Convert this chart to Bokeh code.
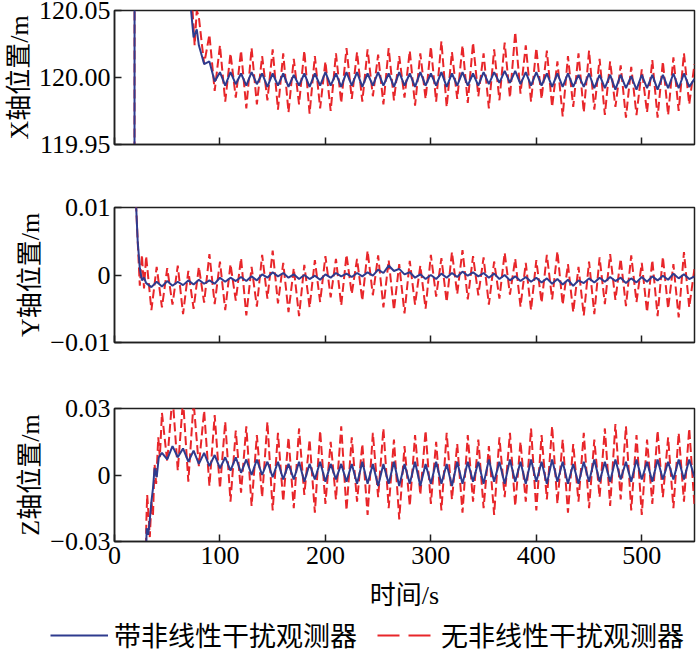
from bokeh.plotting import figure
from bokeh.models import Range1d, FixedTicker, Legend, LegendItem
from bokeh.layouts import column
from bokeh.embed import file_html
from bokeh.resources import INLINE

# ---------------- data ----------------
t_grid = [30, 35, 40, 45, 50, 55, 60, 65, 70, 75,
          80, 85, 90, 95, 100, 105, 110, 115, 120, 125,
          130, 135, 140, 145, 150, 155, 160, 165, 170, 175,
          180, 185, 190, 195, 200, 205, 210, 215, 220, 225,
          230, 235, 240, 245, 250, 255, 260, 265, 270, 275,
          280, 285, 290, 295, 300, 305, 310, 315, 320, 325,
          330, 335, 340, 345, 350, 355, 360, 365, 370, 375,
          380, 385, 390, 395, 400, 405, 410, 415, 420, 425,
          430, 435, 440, 445, 450, 455, 460, 465, 470, 475,
          480, 485, 490, 495, 500, 505, 510, 515, 520, 525,
          530, 535, 540, 545, 550]

# X axis position (start transient, then oscillation from t=80)
tx_start = [18.9, 19.1, 60, 72, 75, 78]
x_blue_start = [119.80, 120.20, 120.20, 120.055, 120.030, 120.036]
tx_red_start = [18.9, 19.1, 60, 70, 74, 76, 78]
x_red_start = [119.80, 120.20, 120.25, 120.08, 120.05, 120.024, 120.05]
x_blue = [120.024, 120.010, 120.012, 119.997, 120.004, 119.994, 120.004, 119.995, 120.003, 119.994,
          120.004, 119.995, 120.003, 119.993, 120.003, 119.994, 120.003, 119.993, 120.002, 119.994,
          120.003, 119.993, 120.003, 119.994, 120.004, 119.994, 120.003, 119.993, 120.004, 119.994,
          120.004, 119.993, 120.003, 119.994, 120.004, 119.994, 120.003, 119.993, 120.004, 119.994,
          120.003, 119.993, 120.004, 119.994, 120.003, 119.994, 120.004, 119.993, 120.003, 119.994,
          120.004, 119.994, 120.003, 119.994, 120.004, 119.995, 120.004, 119.996, 120.005, 119.996,
          120.005, 119.995, 120.004, 119.994, 120.004, 119.994, 120.003, 119.993, 120.003, 119.993,
          120.003, 119.993, 120.002, 119.993, 120.003, 119.992, 120.002, 119.992, 120.002, 119.991,
          120.002, 119.992, 120.001, 119.991, 120.002, 119.992, 120.002, 119.991, 120.002, 119.992,
          120.003, 119.992, 120.003, 119.993, 119.999]
x_red = [120.045, 120.010, 120.032, 119.990, 120.024, 119.982, 120.018, 119.985, 120.020, 119.977,
         120.022, 119.980, 120.016, 119.983, 120.021, 119.976, 120.018, 119.974, 120.014, 119.980,
         120.020, 119.973, 120.016, 119.977, 120.012, 119.975, 120.018, 119.981, 120.022, 119.984,
         120.019, 119.982, 120.021, 119.986, 120.017, 119.980, 120.022, 119.983, 120.016, 119.985,
         120.020, 119.979, 120.018, 119.984, 120.023, 119.982, 120.027, 119.978, 120.019, 119.984,
         120.024, 119.981, 120.026, 119.986, 120.018, 119.977, 120.021, 119.983, 120.026, 119.985,
         120.034, 119.988, 120.024, 119.982, 120.022, 119.984, 120.020, 119.978, 120.012, 119.971,
         120.016, 119.978, 120.018, 119.974, 120.020, 119.976, 120.014, 119.972, 120.012, 119.978,
         120.009, 119.970, 120.008, 119.972, 120.006, 119.974, 120.013, 119.970, 120.012, 119.972,
         120.015, 119.975, 120.018, 119.980, 120.010]

# Y axis position (start transient, then oscillation from t=30)
ty_start = [18.5, 20, 22, 24, 26, 28]
y_blue_start = [0.03, 0.012, 0.005, 0.001, -0.0008, -0.0004]
y_red_start = [0.03, 0.012, 0.005, -0.0016, 0.003, -0.002]
y_blue = [-0.0012, -0.0018, -0.0010, -0.0017, -0.0009, -0.0016, -0.0010, -0.0015, -0.0008, -0.0014,
          -0.0007, -0.0013, -0.0008, -0.0013, -0.0004, -0.0010, -0.0004, -0.0009, -0.0003, -0.0009,
          -0.0002, -0.0008, 0.0001, -0.0004, 0.0004, -0.0002, 0.0003, -0.0004, 0.0001, -0.0006,
          0.0000, -0.0006, -0.0001, -0.0007, 0.0001, -0.0004, 0.0003, -0.0002, 0.0002, -0.0003,
          0.0003, -0.0002, 0.0004, -0.0001, 0.0008, 0.0003, 0.0014, 0.0006, 0.0009, 0.0001,
          0.0004, -0.0004, 0.0001, -0.0006, 0.0000, -0.0006, 0.0002, -0.0004, 0.0003, -0.0003,
          0.0005, -0.0001, 0.0004, -0.0002, 0.0003, -0.0004, 0.0002, -0.0006, 0.0000, -0.0008,
          -0.0002, -0.0009, -0.0003, -0.0010, -0.0004, -0.0011, -0.0005, -0.0013, -0.0006, -0.0014,
          -0.0007, -0.0016, -0.0008, -0.0012, -0.0005, -0.0011, -0.0004, -0.0010, -0.0003, -0.0009,
          -0.0004, -0.0012, -0.0005, -0.0011, -0.0003, -0.0010, -0.0002, -0.0008, -0.0001, -0.0007,
          0.0002, -0.0005, 0.0001, -0.0006, -0.0002]
y_red = [0.0028, -0.0052, 0.0012, -0.0048, 0.0010, -0.0044, 0.0014, -0.0058, 0.0006, -0.0050,
         0.0012, -0.0041, 0.0031, -0.0043, 0.0020, -0.0052, 0.0016, -0.0038, 0.0025, -0.0060,
         0.0012, -0.0047, 0.0030, -0.0035, 0.0036, -0.0042, 0.0018, -0.0055, 0.0010, -0.0061,
         0.0015, -0.0048, 0.0022, -0.0040, 0.0028, -0.0033, 0.0024, -0.0045, 0.0030, -0.0028,
         0.0024, -0.0038, 0.0036, -0.0030, 0.0029, -0.0048, 0.0022, -0.0052, 0.0016, -0.0057,
         0.0021, -0.0044, 0.0014, -0.0050, 0.0030, -0.0032, 0.0025, -0.0040, 0.0034, -0.0028,
         0.0037, -0.0036, 0.0028, -0.0030, 0.0026, -0.0044, 0.0020, -0.0035, 0.0033, -0.0029,
         0.0024, -0.0047, 0.0018, -0.0052, 0.0022, -0.0041, 0.0030, -0.0036, 0.0035, -0.0044,
         0.0016, -0.0055, 0.0012, -0.0060, 0.0020, -0.0058, 0.0026, -0.0043, 0.0031, -0.0037,
         0.0024, -0.0046, 0.0029, -0.0040, 0.0018, -0.0055, 0.0022, -0.0061, 0.0027, -0.0050,
         0.0016, -0.0063, 0.0034, -0.0048, 0.0010]

# Z axis position (start transient, then oscillation from t=45)
tz_blue_start = [29.3, 30.5, 32, 33.5, 35, 36.5, 38, 40, 42]
z_blue_start = [-0.05, -0.024, -0.027, -0.020, -0.012, -0.006, 0.003, -0.001, 0.008]
tz_red_start = [29.3, 30.2, 31, 32, 33.5, 35, 36.5, 38, 39.5, 41.5, 43]
z_red_start = [-0.05, -0.021, -0.009, -0.016, -0.028, -0.012, -0.018, 0.005, -0.004, 0.017, 0.008]
z_blue = [0.010, 0.007, 0.013, 0.008, 0.012, 0.006, 0.011, 0.005, 0.010, 0.004,
          0.009, 0.003, 0.008, 0.002, 0.008, 0.001, 0.007, 0.000, 0.007, 0.000,
          0.006, -0.001, 0.006, -0.002, 0.005, -0.002, 0.006, -0.003, 0.005, -0.002,
          0.006, -0.003, 0.005, -0.002, 0.005, -0.003, 0.005, -0.004, 0.006, -0.004,
          0.005, -0.005, 0.005, -0.004, 0.006, -0.005, 0.005, -0.004, 0.006, -0.005,
          0.005, -0.004, 0.006, -0.004, 0.005, -0.005, 0.006, -0.004, 0.006, -0.003,
          0.006, -0.004, 0.007, -0.003, 0.006, -0.004, 0.007, -0.003, 0.006, -0.004,
          0.007, -0.003, 0.006, -0.004, 0.007, -0.003, 0.006, -0.004, 0.005, -0.004,
          0.006, -0.003, 0.007, -0.003, 0.006, -0.003, 0.007, -0.002, 0.006, -0.003,
          0.007, -0.002, 0.006, -0.003, 0.007, -0.002, 0.006, -0.002, 0.007, -0.002,
          0.007, -0.001]
z_red = [0.028, 0.006, 0.036, 0.002, 0.034, -0.003, 0.033, 0.004, 0.029, -0.005,
         0.027, -0.006, 0.024, -0.012, 0.020, -0.008, 0.022, -0.014, 0.018, -0.010,
         0.024, -0.016, 0.019, -0.012, 0.017, -0.015, 0.021, -0.009, 0.016, -0.017,
         0.020, -0.013, 0.015, -0.011, 0.022, -0.016, 0.017, -0.012, 0.014, -0.018,
         0.019, -0.010, 0.021, -0.015, 0.016, -0.020, 0.013, -0.014, 0.018, -0.009,
         0.020, -0.013, 0.015, -0.016, 0.019, -0.011, 0.014, -0.017, 0.018, -0.012,
         0.016, -0.015, 0.013, -0.018, 0.017, -0.010, 0.019, -0.014, 0.015, -0.012,
         0.021, -0.016, 0.018, -0.011, 0.022, -0.013, 0.016, -0.017, 0.014, -0.012,
         0.019, -0.015, 0.016, -0.010, 0.021, -0.014, 0.023, -0.011, 0.022, -0.016,
         0.018, -0.018, 0.016, -0.013, 0.020, -0.010, 0.017, -0.015, 0.019, -0.012,
         0.021, -0.014]

x_ticks = [0, 100, 200, 300, 400, 500]
labels = ["带非线性干扰观测器", "无非线性干扰观测器"]

# ---------------- style ----------------
BLUE = "#2E3B8E"
RED = "#E8262A"
FONT = "Liberation Serif, Noto Sans CJK SC"
CJK = "Noto Sans CJK SC"
FRAME = "#1f1f1f"
W = 699
BL = 114
BR = 5


def panel(height, bt, bb, y0, y1, yticks, yover, ylabel, xlabels):
    p = figure(width=W, height=height, x_range=Range1d(0, 550), y_range=Range1d(y0, y1),
               output_backend="svg", toolbar_location=None,
               min_border_left=BL, min_border_right=BR, min_border_top=bt, min_border_bottom=bb)
    p.grid.visible = False
    p.outline_line_color = FRAME
    p.outline_line_width = 1.5
    for ax in (p.xaxis[0], p.yaxis[0]):
        ax.axis_line_color = FRAME
        ax.axis_line_width = 1.5
        ax.major_tick_in = 7
        ax.major_tick_out = 0
        ax.major_tick_line_color = FRAME
        ax.major_tick_line_width = 1.5
        ax.minor_tick_line_color = None
        ax.major_label_text_font = FONT
        ax.major_label_text_font_size = "26px"
        ax.major_label_text_color = "black"
        ax.axis_label_text_font = FONT
        ax.axis_label_text_font_size = "26px"
        ax.axis_label_text_font_style = "normal"
        ax.axis_label_text_color = "black"
    p.xaxis.ticker = FixedTicker(ticks=x_ticks)
    p.yaxis.ticker = FixedTicker(ticks=yticks)
    p.yaxis.major_label_overrides = yover
    p.yaxis.major_label_standoff = 4
    p.yaxis.axis_label_standoff = 2
    p.yaxis.axis_label = ylabel
    p.xaxis.major_label_standoff = 5
    if not xlabels:
        p.xaxis.major_label_overrides = {t: "" for t in x_ticks}
    return p


p1 = panel(180, 10, 36, 119.95, 120.05, [119.95, 120.0, 120.05],
           {119.95: "119.95", 120.0: "120.00", 120.05: "120.05"}, "X轴位置/m", False)
p1.line(tx_red_start + t_grid[10:], x_red_start + x_red, color=RED, line_width=2, line_dash="9 4")
p1.line(tx_start + t_grid[10:], x_blue_start + x_blue, color=BLUE, line_width=2)

p2 = panel(200, 27, 38, -0.01, 0.01, [-0.01, 0, 0.01],
           {-0.01: "\u22120.01", 0: "0", 0.01: "0.01"}, "Y轴位置/m", False)
p2.line(ty_start + t_grid, y_red_start + y_red, color=RED, line_width=2, line_dash="9 4")
p2.line(ty_start + t_grid, y_blue_start + y_blue, color=BLUE, line_width=2)

p3 = panel(232, 28, 69, -0.03, 0.03, [-0.03, 0, 0.03],
           {-0.03: "\u22120.03", 0: "0", 0.03: "0.03"}, "Z轴位置/m", True)
p3.xaxis.axis_label = "时间/s"
p3.xaxis.axis_label_standoff = 14
p3.line(tz_red_start + t_grid[3:], z_red_start + z_red, color=RED, line_width=2, line_dash="9 4")
p3.line(tz_blue_start + t_grid[3:], z_blue_start + z_blue, color=BLUE, line_width=2)

# legend strip
p4 = figure(width=W, height=42, x_range=Range1d(0, 1), y_range=Range1d(0, 1),
            output_backend="svg", toolbar_location=None,
            x_axis_location=None, y_axis_location=None, min_border=0)
p4.outline_line_color = None
p4.grid.visible = False
nan = float("nan")
rb = p4.line([nan], [nan], color=BLUE, line_width=2)
rr = p4.line([nan], [nan], color=RED, line_width=2, line_dash="22 9")
legend = Legend(items=[LegendItem(label=labels[0], renderers=[rb]),
                       LegendItem(label=labels[1], renderers=[rr])],
                orientation="horizontal", location=(50, 0), glyph_width=58, glyph_height=20,
                label_standoff=6, spacing=20, padding=0, margin=0,
                border_line_color=None, background_fill_alpha=0,
                label_text_font=CJK, label_text_font_size="27px", label_text_color="black")
p4.add_layout(legend)

layout = column(column(p1, p2, p3, spacing=0), p4, spacing=0)
open("out.html", "w").write(file_html(layout, INLINE))
